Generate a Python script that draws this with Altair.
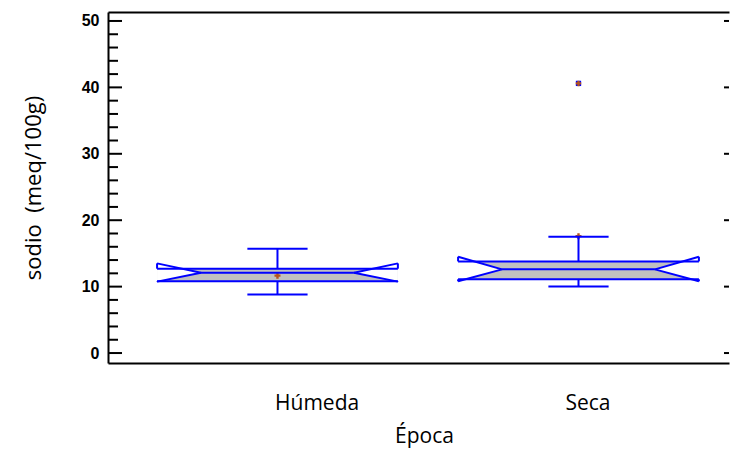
import altair as alt
import pandas as pd

# ---- data ----
groups = ["Húmeda", "Seca"]
centers = [1.0, 2.0]
whisker_low = [8.8, 10.0]
q1 = [10.8, 11.1]
median = [12.1, 12.6]
q3 = [12.7, 13.8]
whisker_high = [15.7, 17.5]
notch_low = [10.75, 10.8]
notch_high = [13.5, 14.5]
means = [11.65, 17.6]
outlier_center = [2.0]
outlier_values = [40.6]

y_major = [0, 10, 20, 30, 40, 50]
y_minor = [2, 4, 6, 8, 12, 14, 16, 18, 22, 24, 26, 28, 32, 34, 36, 38, 42, 44, 46, 48]
x_label_pos = [1.13, 2.03]
x_labels = ["Húmeda", "Seca"]

# ---- layout / style ----
BOX_HALF = 0.40
NOTCH_IN = 0.146
CAP_HALF = 0.10
W, H = 621, 351
X_DOMAIN = [0.437, 2.500]
Y_DOMAIN = [-1.5, 51.35]
BLUE = "#0000FF"
MEAN_C = "#B4541E"
GRAY = "#C0C0C0"
SANS = "Open Sans"

xs = alt.Scale(domain=X_DOMAIN, nice=False, zero=False)
ys = alt.Scale(domain=Y_DOMAIN, nice=False, zero=False)

# ---- derived tables ----
box_rows, wedge_rows, seg_rows = [], [], []
for i, g in enumerate(groups):
    c = centers[i]
    L, R = c - BOX_HALF, c + BOX_HALF
    m = median[i]
    box_rows.append(dict(g=g, L=L, R=R, q1=q1[i], q3=q3[i]))
    wedge_rows += [
        dict(id=f"{g}L", x=L, top=notch_high[i], bot=notch_low[i]),
        dict(id=f"{g}L", x=L + NOTCH_IN, top=m, bot=m),
        dict(id=f"{g}R", x=R - NOTCH_IN, top=m, bot=m),
        dict(id=f"{g}R", x=R, top=notch_high[i], bot=notch_low[i]),
    ]
    segs = [
        (L, q3[i], R, q3[i]),
        (L, q1[i], R, q1[i]),
        (L + NOTCH_IN, m, R - NOTCH_IN, m),
        (L, notch_high[i], L + NOTCH_IN, m),
        (L, notch_low[i], L + NOTCH_IN, m),
        (R, notch_high[i], R - NOTCH_IN, m),
        (R, notch_low[i], R - NOTCH_IN, m),
        (L, notch_high[i], L, q3[i]),
        (L, q1[i], L, notch_low[i]),
        (R, notch_high[i], R, q3[i]),
        (R, q1[i], R, notch_low[i]),
        (c, q3[i], c, whisker_high[i]),
        (c, q1[i], c, whisker_low[i]),
        (c - CAP_HALF, whisker_high[i], c + CAP_HALF, whisker_high[i]),
        (c - CAP_HALF, whisker_low[i], c + CAP_HALF, whisker_low[i]),
    ]
    for (a, b, a2, b2) in segs:
        seg_rows.append(dict(x=a, y=b, x2=a2, y2=b2))

box_df = pd.DataFrame(box_rows)
wedge_df = pd.DataFrame(wedge_rows)
seg_df = pd.DataFrame(seg_rows)
mean_df = pd.DataFrame(dict(x=centers, y=means))
out_df = pd.DataFrame(dict(x=outlier_center, y=outlier_values))
major_df = pd.DataFrame(dict(v=y_major))
minor_df = pd.DataFrame(dict(v=y_minor))

top_axis = alt.Axis(orient="top", labels=False, ticks=False, title=None, grid=False,
                    domain=True, domainColor="black", domainWidth=2)
bottom_axis = alt.Axis(orient="bottom", values=x_label_pos, grid=False, ticks=False,
                       domain=True, domainColor="black", domainWidth=2,
                       labelExpr=f"datum.value < 1.5 ? '{x_labels[0]}' : '{x_labels[1]}'",
                       labelFont=SANS, labelFontSize=21, labelColor="black",
                       labelPadding=29, labelBaseline="top",
                       title="Época", titleFont=SANS, titleFontSize=21,
                       titleFontWeight="normal", titleColor="black",
                       titleX=316, titleY=79, titleBaseline="alphabetic", titleAlign="center")
y_axis = alt.Axis(values=y_major, grid=False, ticks=False, domain=True,
                  domainColor="black", domainWidth=2,
                  labelFont="Liberation Sans", labelFontWeight="bold", labelFontSize=16,
                  labelColor="black", labelPadding=9,
                  title="sodio \u00a0(meq/100g)", titleFont=SANS, titleFontSize=22,
                  titleFontWeight="normal", titleColor="black",
                  titleX=-75, titleY=H / 2, titleAngle=-90,
                  titleAlign="center", titleBaseline="middle")

fill = alt.Chart(box_df).mark_rect(color=GRAY).encode(
    x=alt.X("L:Q", scale=xs, axis=top_axis),
    x2="R:Q",
    y=alt.Y("q1:Q", scale=ys, axis=y_axis),
    y2="q3:Q",
)

wedges = alt.Chart(wedge_df).mark_area(color="white", opacity=1).encode(
    x=alt.X("x:Q", scale=xs, axis=None),
    y=alt.Y("top:Q", scale=ys),
    y2="bot:Q",
    detail="id:N",
)

mean_pts = alt.Chart(mean_df).mark_point(shape="cross", filled=True, size=36,
                                         color=MEAN_C, opacity=1).encode(
    x=alt.X("x:Q", scale=xs, axis=None),
    y=alt.Y("y:Q", scale=ys),
)

segments = alt.Chart(seg_df).mark_rule(color=BLUE, strokeWidth=2).encode(
    x=alt.X("x:Q", scale=xs, axis=bottom_axis),
    x2="x2:Q",
    y=alt.Y("y:Q", scale=ys),
    y2="y2:Q",
)

out_sq = alt.Chart(out_df).mark_square(size=28, color=BLUE, filled=True, opacity=1).encode(
    x=alt.X("x:Q", scale=xs, axis=None),
    y=alt.Y("y:Q", scale=ys),
)
out_cross = alt.Chart(out_df).mark_point(shape="cross", filled=True, size=30,
                                         color=MEAN_C, opacity=1).encode(
    x=alt.X("x:Q", scale=xs, axis=None),
    y=alt.Y("y:Q", scale=ys),
)

ticks_major = alt.Chart(major_df).mark_rule(color="black", strokeWidth=2).encode(
    y=alt.Y("v:Q", scale=ys), x=alt.value(0), x2=alt.value(14))
ticks_minor = alt.Chart(minor_df).mark_rule(color="black", strokeWidth=2).encode(
    y=alt.Y("v:Q", scale=ys), x=alt.value(0), x2=alt.value(10))
ticks_right = alt.Chart(major_df).mark_rule(color="black", strokeWidth=2).encode(
    y=alt.Y("v:Q", scale=ys), x=alt.value(W - 5), x2=alt.value(W))

chart = alt.layer(
    fill, wedges, mean_pts, segments, out_sq, out_cross,
    ticks_major, ticks_minor, ticks_right,
).resolve_axis(x="independent").properties(
    width=W, height=H,
    autosize=alt.AutoSizeParams(type="none"),
    padding={"left": 100, "top": 4, "right": 1, "bottom": 88},
    background="white",
).configure_view(stroke=None)

chart.save("out.html", embed_options={"renderer": "svg", "actions": False})
